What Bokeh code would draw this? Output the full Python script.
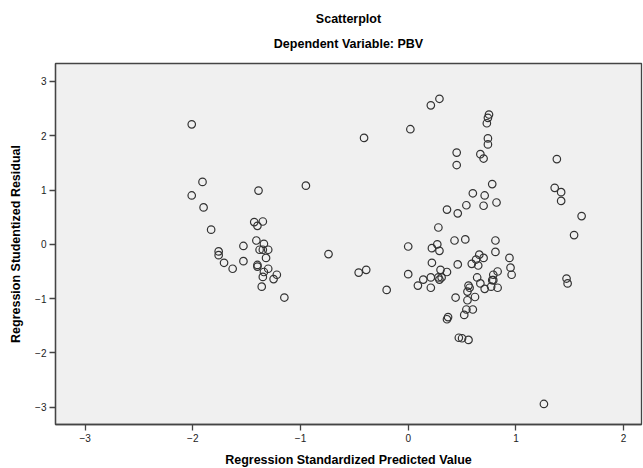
from bokeh.plotting import figure
from bokeh.models import Title, Range1d, FixedTicker, ColumnDataSource
from bokeh.embed import file_html
from bokeh.resources import INLINE

pred = [-2.01, -1.91, -2.01, -1.90, -1.83,
        -1.76, -1.76, -1.71, -1.63, -1.53, -1.53,
        -1.39, -1.43, -1.35, -1.40, -1.41, -1.34,
        -1.38, -1.35, -1.30, -1.32, -1.40, -1.40,
        -1.34, -1.30, -1.35, -1.25, -1.22, -1.36, -1.15,
        -0.95, -0.74, -0.46, -0.39, -0.41, -0.20,
        0.00, 0.00, 0.09, 0.02, 0.21, 0.29,
        0.75, 0.74, 0.73, 0.74, 0.74, 0.45, 0.45, 0.67, 0.70,
        0.78, 0.60, 0.71, 0.82, 0.54, 0.70, 0.36, 0.46, 0.28,
        0.43, 0.53, 0.81, 0.27, 0.22, 0.29, 0.81, 0.22, 0.46,
        0.66, 0.63, 0.70, 0.59, 0.65, 0.94, 0.95, 0.96,
        0.14, 0.21, 0.21, 0.30, 0.36, 0.28, 0.29, 0.31,
        0.83, 0.79, 0.64, 0.78, 0.79, 0.67, 0.77, 0.71, 0.83,
        0.56, 0.57, 0.55, 0.44, 0.62, 0.55, 0.54, 0.60, 0.52,
        0.37, 0.36, 0.47, 0.50, 0.56,
        1.38, 1.36, 1.42, 1.42, 1.61, 1.54, 1.47, 1.48, 1.26]

resid = [2.21, 1.15, 0.90, 0.68, 0.27,
         -0.13, -0.20, -0.34, -0.45, -0.03, -0.31,
         0.99, 0.41, 0.42, 0.34, 0.07, 0.01,
         -0.10, -0.10, -0.10, -0.25, -0.38, -0.41,
         -0.51, -0.45, -0.60, -0.64, -0.56, -0.78, -0.98,
         1.08, -0.18, -0.52, -0.47, 1.96, -0.84,
         -0.04, -0.55, -0.76, 2.12, 2.56, 2.68,
         2.39, 2.33, 2.23, 1.95, 1.84, 1.69, 1.46, 1.66, 1.58,
         1.11, 0.94, 0.90, 0.77, 0.72, 0.71, 0.64, 0.57, 0.31,
         0.07, 0.09, 0.07, 0.00, -0.07, -0.12, -0.14, -0.34, -0.37,
         -0.19, -0.28, -0.25, -0.36, -0.39, -0.25, -0.43, -0.56,
         -0.65, -0.61, -0.80, -0.47, -0.51, -0.61, -0.65, -0.61,
         -0.50, -0.56, -0.61, -0.66, -0.66, -0.72, -0.78, -0.82, -0.80,
         -0.76, -0.80, -0.87, -0.98, -0.97, -1.03, -1.20, -1.20, -1.30,
         -1.34, -1.38, -1.72, -1.73, -1.76,
         1.57, 1.04, 0.96, 0.80, 0.52, 0.17, -0.63, -0.72, -2.94]

x_ticks = [-3, -2, -1, 0, 1, 2]
y_ticks = [-3, -2, -1, 0, 1, 2, 3]

FONT = "Liberation Sans"
AX = "#444444"

p = figure(frame_width=586, frame_height=361, output_backend="svg",
           toolbar_location=None, min_border_left=55, min_border_right=2,
           min_border_top=63, min_border_bottom=44,
           x_range=Range1d(-3.275, 2.166), y_range=Range1d(-3.318, 3.33))
p.title = None
# small spacer between frame and subtitle
p.add_layout(Title(text=" ", text_font=FONT, text_font_size="6px", standoff=0), "above")
p.add_layout(Title(text="Dependent Variable: PBV", align="center",
                   text_font=FONT, text_font_size="12.5px", text_font_style="bold",
                   text_color="#000000", standoff=9), "above")
p.add_layout(Title(text="Scatterplot", align="center",
                   text_font=FONT, text_font_size="12.5px", text_font_style="bold",
                   text_color="#000000", standoff=10), "above")

p.background_fill_color = "#F0F0F0"
p.border_fill_color = "white"
p.outline_line_color = AX
p.outline_line_width = 1.3
p.xgrid.visible = False
p.ygrid.visible = False

src = ColumnDataSource(dict(x=pred, y=resid))
p.scatter("x", "y", source=src, size=7.5, marker="circle", fill_color=None,
          line_color="#333333", line_width=1.2)

for ax, ticks in ((p.xaxis[0], x_ticks), (p.yaxis[0], y_ticks)):
    ax.ticker = FixedTicker(ticks=ticks)
    ax.minor_tick_line_color = None
    ax.major_tick_in = 0
    ax.major_tick_out = 6
    ax.major_tick_line_color = AX
    ax.major_tick_line_width = 1.3
    ax.axis_line_color = AX
    ax.axis_line_width = 1.3
    ax.major_label_text_font = FONT
    ax.major_label_text_font_size = "10px"
    ax.major_label_text_color = "#222222"
    ax.major_label_standoff = 3
    ax.axis_label_text_font = FONT
    ax.axis_label_text_font_size = "12.5px"
    ax.axis_label_text_font_style = "bold"
    ax.axis_label_text_color = "#000000"

p.xaxis.axis_label = "Regression Standardized Predicted Value"
p.yaxis.axis_label = "Regression Studentized Residual"
p.xaxis.axis_label_standoff = 8
p.yaxis.axis_label_standoff = 9

open("out.html", "w").write(file_html(p, INLINE))
